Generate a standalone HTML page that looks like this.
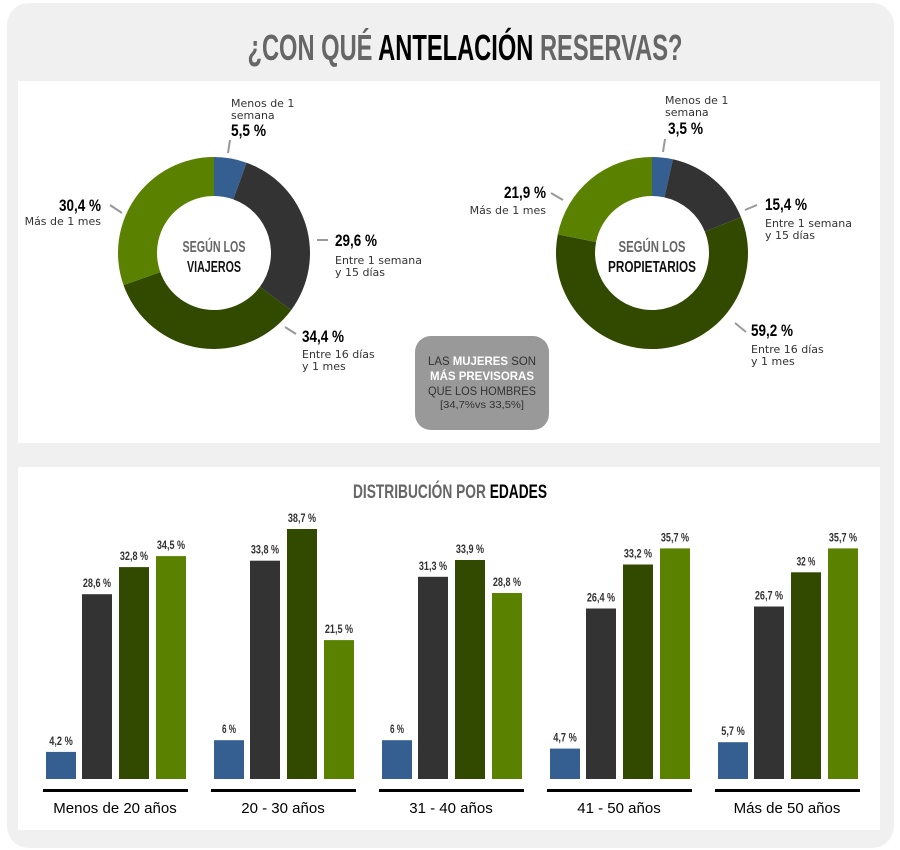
<!DOCTYPE html>
<html><head><meta charset="utf-8"><style>
html,body{margin:0;padding:0;background:#fff;}
svg{display:block}
.c{font-family:"Liberation Sans Narrow","Liberation Sans",sans-serif;font-weight:bold}
.s{font-family:"DejaVu Sans","Liberation Sans",sans-serif;font-size:11px;fill:#333}
</style></head><body>
<svg id="g" width="900" height="850" xmlns="http://www.w3.org/2000/svg">
<rect x="7" y="3" width="887" height="845" rx="22" fill="#f0f0f0"/>
<rect x="18" y="81" width="862" height="362" fill="#fff"/>
<rect x="18" y="467" width="862" height="363" fill="#fff"/>
<text x="465" y="60" text-anchor="middle" class="c" font-size="36" textLength="435" lengthAdjust="spacingAndGlyphs"><tspan fill="#666">¿CON QUÉ </tspan><tspan fill="#000">ANTELACIÓN </tspan><tspan fill="#666">RESERVAS?</tspan></text>

<g id="d1"></g><g id="d2"></g>
<text x="214" y="252" text-anchor="middle" class="c" font-size="16" fill="#666" textLength="63" lengthAdjust="spacingAndGlyphs">SEGÚN LOS</text>
<text x="214" y="272" text-anchor="middle" class="c" font-size="16" fill="#111" textLength="54" lengthAdjust="spacingAndGlyphs">VIAJEROS</text>
<text x="652" y="252" text-anchor="middle" class="c" font-size="16" fill="#666" textLength="67" lengthAdjust="spacingAndGlyphs">SEGÚN LOS</text>
<text x="652" y="272" text-anchor="middle" class="c" font-size="16" fill="#111" textLength="88" lengthAdjust="spacingAndGlyphs">PROPIETARIOS</text>

<g stroke="#999" stroke-width="2">
<line x1="230" y1="140" x2="228" y2="153"/>
<line x1="110" y1="205" x2="122" y2="213"/>
<line x1="317" y1="240" x2="328" y2="240"/>
<line x1="285" y1="327" x2="296" y2="334"/>
<line x1="665" y1="139" x2="663" y2="152"/>
<line x1="551" y1="193" x2="563" y2="200"/>
<line x1="745" y1="210" x2="757" y2="205"/>
<line x1="735" y1="323" x2="746" y2="332"/>
</g>
<text x="231" y="107" class="s">Menos de 1</text>
<text x="231" y="119" class="s">semana</text>
<text x="231" y="136" class="c big" font-size="17" fill="#000">5,5 %</text>
<text x="101" y="211" text-anchor="end" class="c big" font-size="17" fill="#000">30,4 %</text>
<text x="101" y="225" text-anchor="end" class="s">Más de 1 mes</text>
<text x="335" y="246" class="c big" font-size="17" fill="#000">29,6 %</text>
<text x="335" y="264" class="s">Entre 1 semana</text>
<text x="335" y="276" class="s">y 15 días</text>
<text x="302" y="342" class="c big" font-size="17" fill="#000">34,4 %</text>
<text x="302" y="358" class="s">Entre 16 días</text>
<text x="302" y="370" class="s">y 1 mes</text>

<text x="665" y="104" class="s">Menos de 1</text>
<text x="665" y="116" class="s">semana</text>
<text x="668" y="134" class="c big" font-size="17" fill="#000">3,5 %</text>
<text x="546" y="198" text-anchor="end" class="c big" font-size="17" fill="#000">21,9 %</text>
<text x="546" y="214" text-anchor="end" class="s">Más de 1 mes</text>
<text x="765" y="210" class="c big" font-size="17" fill="#000">15,4 %</text>
<text x="765" y="227" class="s">Entre 1 semana</text>
<text x="765" y="239" class="s">y 15 días</text>
<text x="751" y="336" class="c big" font-size="17" fill="#000">59,2 %</text>
<text x="751" y="353" class="s">Entre 16 días</text>
<text x="751" y="365" class="s">y 1 mes</text>

<rect x="415" y="336" width="134" height="94" rx="16" fill="#999"/>
<g font-family="Liberation Sans Narrow,Liberation Sans,sans-serif" font-size="12" text-anchor="middle">
<text x="482" y="365" fill="#333" textLength="108" lengthAdjust="spacingAndGlyphs">LAS <tspan fill="#fff" font-weight="bold">MUJERES</tspan> SON</text>
<text x="482" y="380" fill="#fff" font-weight="bold" textLength="104" lengthAdjust="spacingAndGlyphs">MÁS PREVISORAS</text>
<text x="482" y="395" fill="#333" textLength="108" lengthAdjust="spacingAndGlyphs">QUE LOS HOMBRES</text>
<text x="482" y="408" fill="#333" font-size="10" textLength="84" lengthAdjust="spacingAndGlyphs">[34,7%vs 33,5%]</text>
</g>

<text x="450" y="498" text-anchor="middle" class="c" font-size="19" textLength="194" lengthAdjust="spacingAndGlyphs"><tspan fill="#666">DISTRIBUCIÓN POR </tspan><tspan fill="#000">EDADES</tspan></text>
<g id="bars"></g>
</svg>
<script>
function donut(id,cx,cy,R,r,vals,cols){
  var g=document.getElementById(id),a=-Math.PI/2,tot=vals.reduce((s,v)=>s+v,0),h='';
  vals.forEach(function(v,i){
    var b=a+v/tot*2*Math.PI,l=(b-a)>Math.PI?1:0;
    var p=function(rr,t){return (cx+rr*Math.cos(t)).toFixed(2)+' '+(cy+rr*Math.sin(t)).toFixed(2)};
    h+='<path fill="'+cols[i]+'" d="M'+p(R,a)+' A'+R+' '+R+' 0 '+l+' 1 '+p(R,b)+' L'+p(r,b)+' A'+r+' '+r+' 0 '+l+' 0 '+p(r,a)+'Z"/>';
    a=b;
  });
  g.innerHTML=h;
}
var C=['#355f91','#333333','#314a00','#5a8200'];
donut('d1',214,253,96,57,[5.5,29.6,34.4,30.4],C);
donut('d2',652,253,96,57,[3.5,15.4,59.2,21.9],C);
document.querySelectorAll('.big').forEach(function(t){t.setAttribute('textLength',(t.textContent.length*7).toString());t.setAttribute('lengthAdjust','spacingAndGlyphs');});
var data=[[4.2,28.6,32.8,34.5],[6,33.8,38.7,21.5],[6,31.3,33.9,28.8],[4.7,26.4,33.2,35.7],[5.7,26.7,32,35.7]];
var labs=[['4,2 %','28,6 %','32,8 %','34,5 %'],['6 %','33,8 %','38,7 %','21,5 %'],['6 %','31,3 %','33,9 %','28,8 %'],['4,7 %','26,4 %','33,2 %','35,7 %'],['5,7 %','26,7 %','32 %','35,7 %']];
var cats=['Menos de 20 años','20 - 30 años','31 - 40 años','41 - 50 años','Más de 50 años'];
var h='',off=[3,39,76,113];
data.forEach(function(d,gi){
  var x0=43+gi*168;
  d.forEach(function(v,i){
    var hh=v*6.46,x=x0+off[i],y=779-hh,L=labs[gi][i];
    h+='<rect x="'+x+'" y="'+y.toFixed(1)+'" width="30" height="'+hh.toFixed(1)+'" fill="'+C[i]+'"/>';
    h+='<text x="'+(x+15)+'" y="'+(y-7).toFixed(1)+'" text-anchor="middle" class="c" font-size="12" fill="#333" textLength="'+(L.length*4.7).toFixed(1)+'" lengthAdjust="spacingAndGlyphs">'+L+'</text>';
  });
  h+='<rect x="'+x0+'" y="789" width="145" height="3" fill="#000"/>';
  h+='<text x="'+(x0+72)+'" y="813" text-anchor="middle" font-family="Liberation Sans,sans-serif" font-size="15" fill="#000">'+cats[gi]+'</text>';
});
document.getElementById('bars').innerHTML=h;
</script>
</body></html>
